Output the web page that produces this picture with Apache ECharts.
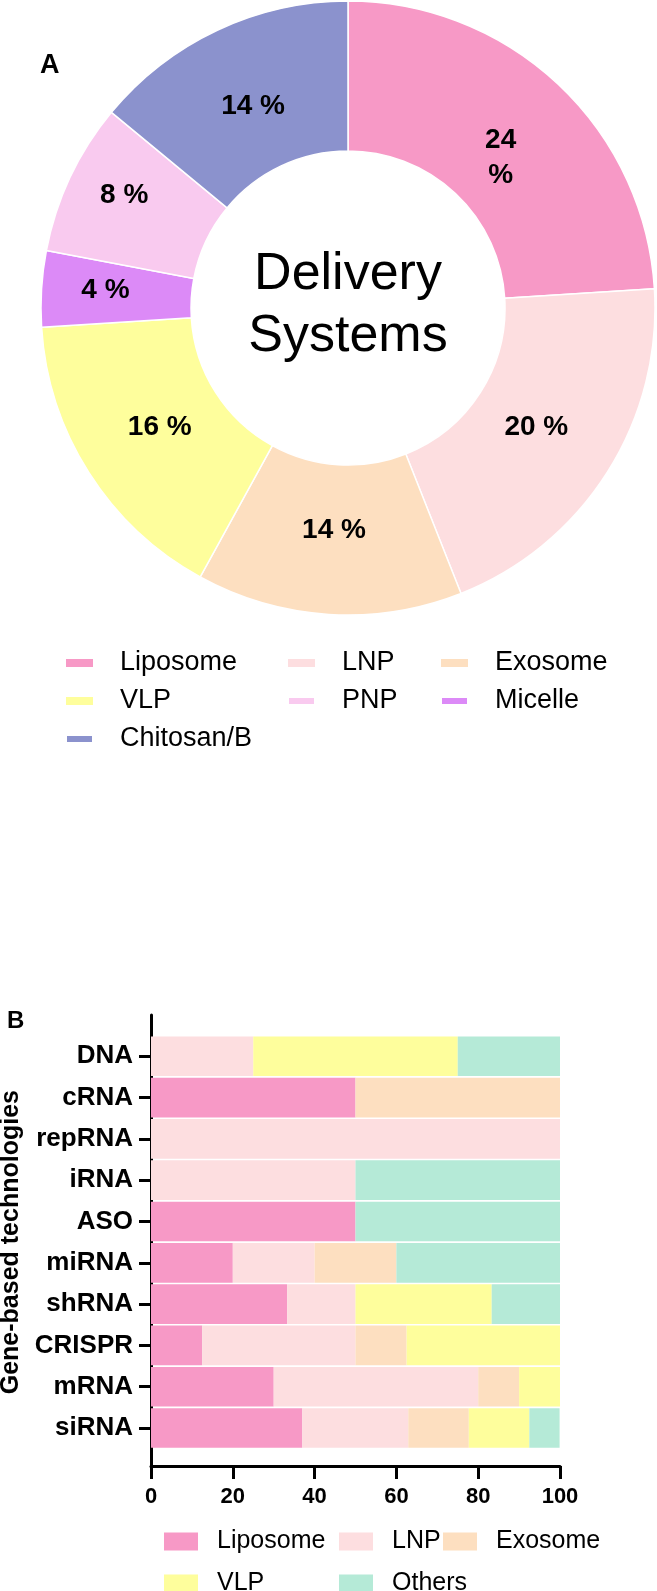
<!DOCTYPE html>
<html>
<head>
<meta charset="utf-8">
<script src="https://cdn.jsdelivr.net/npm/echarts@6/dist/echarts.min.js"></script>
<style>
  html, body { margin: 0; padding: 0; background: #fff; }
  #chart { width: 657px; height: 1591px; }
</style>
</head>
<body>
<div id="chart"></div>
<script>
// panel A: delivery systems share (%), clockwise from 12 o'clock
var pieNames = ['Liposome', 'LNP', 'Exosome', 'VLP', 'Micelle', 'PNP', 'Chitosan/B'];
var pieValues = [24, 20, 14, 16, 4, 8, 14];
var pieColors = ['#F799C6', '#FDDEE0', '#FDDFC0', '#FEFE9C', '#DC8AF7', '#F9CAEF', '#8B92CD'];

// panel B: technologies, top to bottom
var techs = ['DNA', 'cRNA', 'repRNA', 'iRNA', 'ASO', 'miRNA', 'shRNA', 'CRISPR', 'mRNA', 'siRNA'];
var liposome = [0, 50, 0, 0, 50, 20, 33.3, 12.5, 30, 37];
var lnp      = [25, 0, 100, 50, 0, 20, 16.7, 37.5, 50, 25.9];
var exosome  = [0, 50, 0, 0, 0, 20, 0, 12.5, 10, 14.8];
var vlp      = [50, 0, 0, 0, 0, 0, 33.3, 37.5, 10, 14.8];
var others   = [25, 0, 0, 50, 50, 40, 16.7, 0, 0, 7.4];
var xTicks = [0, 20, 40, 60, 80, 100];

var FONT = '"Liberation Sans", Arial, sans-serif';
var myChart = echarts.init(document.getElementById('chart'));

function legendCol(left, top, names, opt) {
  return {
    orient: 'vertical',
    left: left,
    top: top,
    padding: 0,
    data: names,
    selectedMode: false,
    icon: 'rect',
    itemWidth: opt.w,
    itemHeight: opt.h,
    itemGap: opt.gap,
    textStyle: {
      fontFamily: FONT,
      fontSize: opt.fs,
      lineHeight: opt.lh,
      color: '#000',
      padding: [0, 0, 0, opt.pad]
    }
  };
}
var legA = { w: 27, h: 8, gap: 8, fs: 27, lh: 30, pad: 22 };
var legB = { w: 34, h: 18, gap: 10, fs: 25, lh: 24, pad: 14 };

var pieData = pieNames.map(function (n, i) {
  return { name: n, value: pieValues[i], itemStyle: { color: pieColors[i] } };
});
// transparent copy of the ring, only to carry the percent labels
var labelNudge = { Liposome: [0, 12], PNP: [-22, -18], Micelle: [-20, -4] };
var pieLabelData = pieNames.map(function (n, i) {
  var d = { name: n, value: pieValues[i], label: {} };
  if (i === 0) d.label.formatter = '{c}\n%';
  if (labelNudge[n]) d.label.offset = labelNudge[n];
  return d;
});

var barColors = { Liposome: '#F799C6', LNP: '#FDDEE0', Exosome: '#FDDFC0', VLP: '#FEFE9C', Others: '#B5EAD7' };
function barSeries(name, data) {
  return {
    name: name,
    type: 'bar',
    stack: 'all',
    xAxisIndex: 0,
    yAxisIndex: 0,
    barCategoryGap: '4%',
    itemStyle: { color: barColors[name] },
    data: data
  };
}

var option = {
  animation: false,
  textStyle: { fontFamily: FONT },
  graphic: [
    { type: 'text', left: 40, top: 52, style: { text: 'A', font: 'bold 27px ' + FONT, fill: '#000' } },
    { type: 'text', left: 7, top: 1009, style: { text: 'B', font: 'bold 24px ' + FONT, fill: '#000' } },
    {
      type: 'text', x: 348, y: 306,
      style: {
        text: 'Delivery\nSystems', font: '52px ' + FONT, lineHeight: 62,
        fill: '#000', align: 'center', verticalAlign: 'middle'
      }
    }
  ],
  legend: [
    legendCol(65, 648, ['Liposome', 'VLP', 'Chitosan/B'], legA),
    legendCol(287, 648, ['LNP', 'PNP'], legA),
    legendCol(440, 648, ['Exosome', 'Micelle'], legA),
    legendCol(164, 1529, ['Liposome'], legB),
    legendCol(339, 1529, ['LNP'], legB),
    legendCol(443, 1529, ['Exosome'], legB),
    legendCol(164, 1571, ['VLP'], legB),
    legendCol(339, 1571, ['Others'], legB)
  ],
  grid: [
    { left: 151, right: 97, top: 1035.6, bottom: 142.3, containLabel: false, outerBoundsMode: 'none' },
    { left: 151, right: 97, top: 1015, bottom: 125, containLabel: false, outerBoundsMode: 'none' }
  ],
  xAxis: [
    { gridIndex: 0, type: 'value', min: 0, max: 100, show: false },
    {
      gridIndex: 1, type: 'value', min: xTicks[0], max: xTicks[xTicks.length - 1], interval: 20,
      axisLine: { show: true, lineStyle: { color: '#000', width: 3 } },
      axisTick: { show: true, length: 13, lineStyle: { color: '#000', width: 3 } },
      axisLabel: { fontSize: 22, fontWeight: 'bold', color: '#000', margin: 20, fontFamily: FONT },
      splitLine: { show: false }
    }
  ],
  yAxis: [
    {
      gridIndex: 0, type: 'category', inverse: true, data: techs,
      axisLine: { show: false },
      axisTick: { show: true, alignWithLabel: true, length: 12, lineStyle: { color: '#000', width: 3 } },
      axisLabel: { fontSize: 26, fontWeight: 'bold', color: '#000', margin: 18, fontFamily: FONT },
      name: 'Gene-based technologies',
      nameLocation: 'middle',
      nameRotate: 90,
      nameGap: 114,
      nameTextStyle: { fontSize: 25, fontWeight: 'bold', color: '#000', fontFamily: FONT }
    },
    {
      gridIndex: 1, type: 'value', min: 0, max: 1,
      axisLine: { show: true, lineStyle: { color: '#000', width: 3 } },
      axisTick: { show: false }, axisLabel: { show: false }, splitLine: { show: false }
    }
  ],
  series: [
    {
      type: 'pie',
      center: [348, 308],
      radius: [157, 307],
      startAngle: 90,
      clockwise: true,
      itemStyle: { borderColor: '#fff', borderWidth: 1.5 },
      label: { show: false },
      labelLine: { show: false },
      emphasis: { disabled: true },
      data: pieData
    },
    {
      type: 'pie',
      center: [348, 308],
      radius: [150, 290],
      startAngle: 90,
      clockwise: true,
      silent: true,
      avoidLabelOverlap: false,
      itemStyle: { color: 'rgba(0,0,0,0)' },
      label: {
        show: true, position: 'inside', formatter: '{c} %',
        fontSize: 28, fontWeight: 'bold', color: '#000', lineHeight: 35, fontFamily: FONT
      },
      labelLine: { show: false },
      emphasis: { disabled: true },
      data: pieLabelData
    },
    barSeries('Liposome', liposome),
    barSeries('LNP', lnp),
    barSeries('Exosome', exosome),
    barSeries('VLP', vlp),
    barSeries('Others', others)
  ]
};
myChart.setOption(option);
window.addEventListener('resize', function () { myChart.resize(); });
</script>
</body>
</html>
